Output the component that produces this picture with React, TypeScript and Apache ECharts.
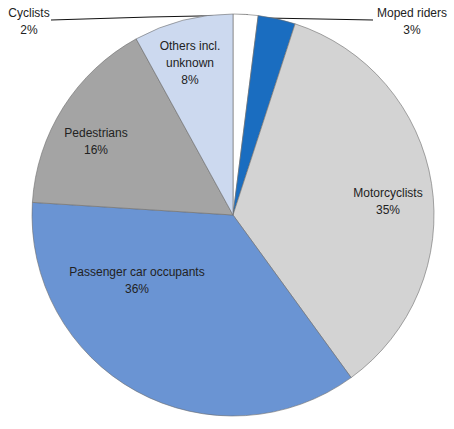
import React, { useEffect, useRef } from "react";
import * as echarts from "echarts";

const categories = [
  "Cyclists",
  "Moped riders",
  "Motorcyclists",
  "Passenger car occupants",
  "Pedestrians",
  "Others incl.\nunknown",
];
const shares = [2, 3, 35, 36, 16, 8];

const colors = ["#ffffff", "#1a6dc0", "#d3d3d3", "#6a94d3", "#a4a4a4", "#ccd9ef"];
// label centre positions (layout only)
const labelPos: [number, number][] = [
  [29, 21],
  [412, 21],
  [388, 201],
  [137, 280],
  [96, 141],
  [190, 63],
];
const linePts: ([number, number][] | null)[] = [
  [[51, 20], [150, 17], [248, 15]],
  [[373, 20], [320, 19], [266, 18]],
  null,
  null,
  null,
  null,
];

export default function App() {
  const ref = useRef<HTMLDivElement>(null);
  useEffect(() => {
    document.body.style.margin = "0";
    const chart = echarts.init(ref.current!, null, { renderer: "svg" });
    chart.setOption({
      animation: false,
      series: [
        {
          type: "pie",
          center: [233, 215],
          radius: 201,
          startAngle: 90,
          clockwise: true,
          avoidLabelOverlap: false,
          itemStyle: { borderColor: "#6d6d6d", borderWidth: 0.6 },
          label: {
            show: true,
            position: "outside",
            formatter: (p: any) => `${p.name}\n${p.value}%`,
            fontFamily: "Liberation Sans, Arial, sans-serif",
            fontSize: 12,
            lineHeight: 17,
            color: "#222",
            align: "center",
          },
          labelLine: {
            show: true,
            lineStyle: { color: "#111", width: 1 },
          },
          labelLayout: (params: any) => {
            const i = params.dataIndex;
            const p = labelPos[i];
            const out: any = {
              x: p[0],
              y: p[1],
              align: "center",
              verticalAlign: "middle",
            };
            if (linePts[i]) out.labelLinePoints = linePts[i];
            return out;
          },
          data: categories.map((c, i) => ({
            name: c,
            value: shares[i],
            itemStyle: { color: colors[i] },
            labelLine: { show: i < 2 },
          })),
        },
      ],
    });
    return () => chart.dispose();
  }, []);
  return <div ref={ref} style={{ width: 454, height: 429 }} />;
}
